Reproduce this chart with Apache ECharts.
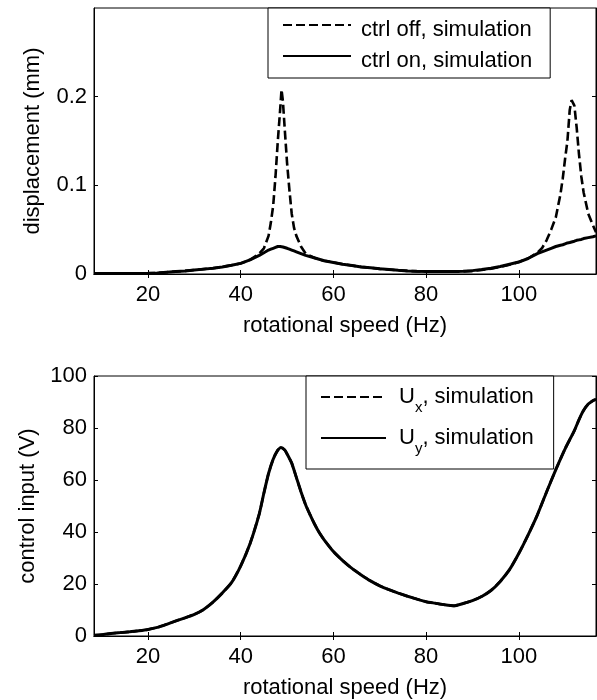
<!DOCTYPE html>
<html>
<head>
<meta charset="utf-8">
<script src="https://cdn.jsdelivr.net/npm/echarts@6/dist/echarts.min.js"></script>
<style>
  html, body { margin: 0; padding: 0; background: #fff; }
  #chart { width: 597px; height: 700px; }
</style>
</head>
<body>
<div id="chart"></div>
<script>
// top plot: displacement vs rotational speed
var speeds = [8.33, 10, 12, 14, 16, 18, 20, 22, 24, 26,
  28, 30, 32, 34, 36, 38, 40, 42, 44, 45,
  46, 46.5, 47, 47.5, 48, 48.5, 48.8, 49.1, 49.5, 50,
  50.5, 51, 51.5, 52, 53, 54, 56, 58, 60, 62,
  64, 66, 68, 70, 72, 74, 76, 78, 80, 82,
  84, 86, 88, 90, 92, 94, 96, 98, 100, 102,
  104, 105, 106, 107, 108, 109, 109.5, 110, 110.5, 111,
  111.4, 112, 112.5, 113, 113.5, 114, 115, 116, 116.67];
var disp_off = [0.0005, 0.0005, 0.0005, 0.0005, 0.0005, 0.0006, 0.0008, 0.0012, 0.002, 0.0028,
  0.0035, 0.0045, 0.0055, 0.0065, 0.008, 0.0098, 0.012, 0.016, 0.023, 0.029,
  0.043, 0.058, 0.077, 0.11, 0.15, 0.185, 0.208, 0.195, 0.163, 0.125,
  0.095, 0.068, 0.052, 0.043, 0.031, 0.023, 0.018, 0.015, 0.013, 0.011,
  0.0095, 0.008, 0.007, 0.0058, 0.005, 0.0042, 0.0035, 0.003, 0.0028, 0.0027,
  0.0026, 0.0026, 0.0028, 0.0035, 0.0045, 0.006, 0.008, 0.0105, 0.0135, 0.0175,
  0.024, 0.029, 0.038, 0.05, 0.064, 0.09, 0.108, 0.13, 0.15, 0.185,
  0.196, 0.19, 0.165, 0.135, 0.11, 0.092, 0.068, 0.055, 0.047];
var disp_on = [0.0005, 0.0005, 0.0005, 0.0005, 0.0005, 0.0006, 0.0008, 0.0012, 0.002, 0.0028,
  0.0035, 0.0045, 0.0055, 0.0065, 0.008, 0.0098, 0.012, 0.016, 0.021, 0.024,
  0.027, 0.028, 0.029, 0.030, 0.031, 0.031, 0.031, 0.0305, 0.030, 0.029,
  0.028, 0.027, 0.026, 0.025, 0.023, 0.021, 0.018, 0.015, 0.013, 0.011,
  0.0095, 0.008, 0.007, 0.0058, 0.005, 0.0042, 0.0035, 0.003, 0.0028, 0.0027,
  0.0027, 0.0028, 0.003, 0.0038, 0.005, 0.0065, 0.0085, 0.011, 0.0135, 0.0175,
  0.023, 0.025, 0.027, 0.029, 0.031, 0.0325, 0.033, 0.034, 0.035, 0.0355,
  0.036, 0.037, 0.038, 0.0385, 0.039, 0.040, 0.041, 0.042, 0.043];

// bottom plot: control input vs rotational speed (Ux and Uy overlap)
var speeds_u = [8.33, 10, 12, 14, 16, 18, 20, 22, 24, 26,
  28, 30, 32, 34, 36, 38, 40, 42, 44, 45,
  46, 47, 48, 48.7, 49.5, 50, 51, 52, 53, 54,
  55, 56, 57, 58, 60, 62, 64, 66, 68, 70,
  72, 74, 76, 78, 80, 82, 84, 86, 88, 90,
  92, 94, 96, 98, 100, 102, 104, 106, 108, 110,
  112, 113, 114, 115, 116, 116.67];
var u_input = [0.3, 0.5, 1.0, 1.3, 1.6, 2.0, 2.5, 3.3, 4.5, 5.8,
  7.0, 8.3, 10.2, 13.0, 16.5, 20.5, 27, 35.5, 47, 55,
  62.5, 68, 71.5, 72.5, 71.5, 70, 66.5, 61, 55.5, 50.5,
  46.5, 42.8, 39.6, 37, 32.5, 29, 26, 23.5, 21.2, 19.3,
  17.8, 16.5, 15.3, 14.2, 13.2, 12.6, 12.0, 11.6, 12.5, 13.6,
  15.2, 17.5, 21, 25.5, 31.7, 38.8, 46.5, 55.4, 64, 72,
  79, 83.2, 86.8, 89.2, 90.5, 91];

var x_ticks = [20, 40, 60, 80, 100];
var y_ticks_disp = [0, 0.1, 0.2];
var x_range = [8.33, 116.67];

function zip(xs, ys) {
  var out = [];
  for (var i = 0; i < xs.length; i++) out.push([xs[i], ys[i]]);
  return out;
}

var FONT = '"Liberation Sans", Arial, sans-serif';
var FS = 22;
var black = '#000';

function xAxisMain(grid) {
  return {
    type: 'value', gridIndex: grid, min: x_range[0], max: x_range[1],
    name: 'rotational speed (Hz)', nameLocation: 'middle', nameGap: 41,
    nameTextStyle: { color: black, fontSize: FS, fontFamily: FONT },
    axisLine: { show: true, lineStyle: { color: black, width: 1 } },
    axisTick: { show: true, inside: true, length: 4, customValues: x_ticks, lineStyle: { color: black } },
    axisLabel: { show: true, customValues: x_ticks, color: black, fontSize: FS, fontFamily: FONT, margin: 10 },
    splitLine: { show: false }
  };
}
function xAxisMirror(grid) {
  return {
    type: 'value', gridIndex: grid, position: 'top', min: x_range[0], max: x_range[1],
    axisLine: { show: true, lineStyle: { color: black, width: 1 } },
    axisTick: { show: true, inside: true, length: 4, customValues: x_ticks, lineStyle: { color: black } },
    axisLabel: { show: false }, splitLine: { show: false }
  };
}

var option = {
  backgroundColor: '#fff',
  animation: false,
  textStyle: { fontFamily: FONT },
  grid: [
    { left: 94, right: 1, top: 8, bottom: 426, show: true, borderColor: black, borderWidth: 1 },
    { left: 94, right: 1, top: 376, bottom: 61, show: true, borderColor: black, borderWidth: 1 }
  ],
  xAxis: [xAxisMain(0), xAxisMirror(0), xAxisMain(1), xAxisMirror(1)],
  yAxis: [
    {
      type: 'value', gridIndex: 0, min: 0, max: 0.3,
      name: 'displacement (mm)', nameLocation: 'middle', nameGap: 50,
      nameTextStyle: { color: black, fontSize: FS, fontFamily: FONT },
      axisLine: { show: true, lineStyle: { color: black } },
      axisTick: { show: true, inside: true, length: 4, customValues: y_ticks_disp, lineStyle: { color: black } },
      axisLabel: { customValues: y_ticks_disp, color: black, fontSize: FS, fontFamily: FONT, margin: 7 },
      splitLine: { show: false }
    },
    {
      type: 'value', gridIndex: 0, position: 'right', min: 0, max: 0.3,
      axisLine: { show: true, lineStyle: { color: black } },
      axisTick: { show: true, inside: true, length: 4, customValues: y_ticks_disp, lineStyle: { color: black } },
      axisLabel: { show: false }, splitLine: { show: false }
    },
    {
      type: 'value', gridIndex: 1, min: 0, max: 100, interval: 20,
      name: 'control input (V)', nameLocation: 'middle', nameGap: 50,
      nameTextStyle: { color: black, fontSize: FS, fontFamily: FONT },
      axisLine: { show: true, lineStyle: { color: black } },
      axisTick: { show: true, inside: true, length: 4, lineStyle: { color: black } },
      axisLabel: { color: black, fontSize: FS, fontFamily: FONT, margin: 7 },
      splitLine: { show: false }
    },
    {
      type: 'value', gridIndex: 1, position: 'right', min: 0, max: 100, interval: 20,
      axisLine: { show: true, lineStyle: { color: black } },
      axisTick: { show: true, inside: true, length: 4, lineStyle: { color: black } },
      axisLabel: { show: false }, splitLine: { show: false }
    }
  ],
  legend: [
    {
      data: ['ctrl off, simulation', 'ctrl on, simulation'],
      orient: 'vertical', left: 268, top: 8,
      padding: [6, 18, 6, 14], itemGap: 4,
      itemWidth: 68, itemHeight: 14,
      backgroundColor: '#fff', borderColor: black, borderWidth: 1,
      selectedMode: false,
      itemStyle: { opacity: 0, borderWidth: 0 },
      formatter: function (name) { return '{t|' + name + '}'; },
      textStyle: {
        color: black, fontSize: FS, fontFamily: FONT, padding: [0, 0, 0, 5],
        rich: {
          t: { color: black, fontSize: FS, fontFamily: FONT, lineHeight: 22, padding: [5, 0, 0, 0], verticalAlign: 'top' }
        }
      }
    },
    {
      data: ['Ux, simulation', 'Uy, simulation'],
      orient: 'vertical', left: 306, top: 376,
      padding: [10, 20, 11, 14], itemGap: 10,
      itemWidth: 65, itemHeight: 14,
      backgroundColor: '#fff', borderColor: black, borderWidth: 1,
      selectedMode: false,
      itemStyle: { opacity: 0, borderWidth: 0 },
      formatter: function (name) {
        return '{b|U}{s|' + name.charAt(1) + '}{b|' + name.slice(2) + '}';
      },
      textStyle: {
        color: black, fontSize: FS, fontFamily: FONT, padding: [0, 0, 0, 8],
        rich: {
          b: { color: black, fontSize: FS, fontFamily: FONT, lineHeight: 22, verticalAlign: 'top' },
          s: { color: black, fontSize: 15, fontFamily: FONT, lineHeight: 15, padding: [14, 0, 2, 0], verticalAlign: 'top' }
        }
      }
    }
  ],
  series: [
    {
      name: 'ctrl off, simulation', type: 'line', xAxisIndex: 0, yAxisIndex: 0,
      data: zip(speeds, disp_off), symbol: 'none', silent: true,
      lineStyle: { color: black, width: 2.6, type: [9, 4] }, itemStyle: { color: black }
    },
    {
      name: 'ctrl on, simulation', type: 'line', xAxisIndex: 0, yAxisIndex: 0,
      data: zip(speeds, disp_on), symbol: 'none', silent: true,
      lineStyle: { color: black, width: 3 }, itemStyle: { color: black }
    },
    {
      name: 'Ux, simulation', type: 'line', xAxisIndex: 2, yAxisIndex: 2,
      data: zip(speeds_u, u_input), symbol: 'none', silent: true, smooth: 0.2,
      lineStyle: { color: black, width: 2.6, type: [9, 4] }, itemStyle: { color: black }
    },
    {
      name: 'Uy, simulation', type: 'line', xAxisIndex: 2, yAxisIndex: 2,
      data: zip(speeds_u, u_input), symbol: 'none', silent: true, smooth: 0.2,
      lineStyle: { color: black, width: 3 }, itemStyle: { color: black }
    }
  ]
};

var myChart = echarts.init(document.getElementById('chart'));
myChart.setOption(option);
</script>
</body>
</html>
